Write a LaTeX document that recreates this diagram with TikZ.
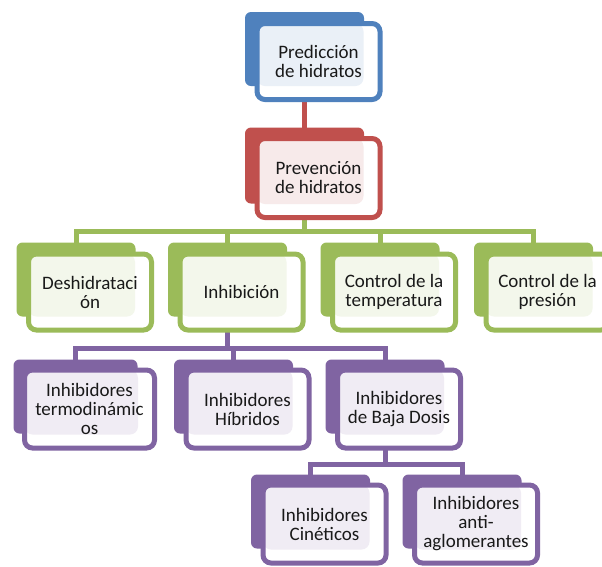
\documentclass[tikz,border=0pt]{standalone}
\usepackage{fontspec}
\setmainfont{Carlito}
\usetikzlibrary{calc}
\definecolor{azul}{HTML}{4F81BD}
\definecolor{rojo}{HTML}{C0504D}
\definecolor{verde}{HTML}{9BBB59}
\definecolor{morado}{HTML}{8064A2}
\tikzset{
  atras/.style={fill=#1, rounded corners=6pt, minimum width=119pt, minimum height=74pt, inner sep=0pt, outer sep=0pt},
  frente/.style={draw=#1, fill=white, line width=5pt, rounded corners=8pt, minimum width=123pt, minimum height=76pt,
    inner sep=0pt, outer sep=0pt, align=center, text=black!90, font={\fontsize{19pt}{19pt}\selectfont},
    path picture={\fill[#1!12] (path picture bounding box.north west) rectangle ([xshift=-16.5pt,yshift=13.5pt]path picture bounding box.south east);}},
  enlace/.style={draw=#1, line width=5pt}
}
\begin{document}
\begin{tikzpicture}[x=1pt,y=-1pt]
  \useasboundingbox (0,0) rectangle (602,566);
  \clip (0,0) rectangle (602,566);
  \fill[white] (0,0) rectangle (602,566);
  % cajas de fondo
  \node[atras=azul] (predB) at (304.5,49) {};
  \node[atras=rojo, minimum height=76pt] (prevB) at (304.5,165.5) {};
  \node[atras=verde] (deshidB) at (76,279.5) {};
  \node[atras=verde] (inhibB) at (227.5,279.5) {};
  \node[atras=verde] (ctempB) at (380,279.5) {};
  \node[atras=verde] (cpresB) at (533.5,279.5) {};
  \node[atras=morado, minimum width=124pt] (termoB) at (75.5,396.5) {};
  \node[atras=morado] (hibrB) at (233.5,396.5) {};
  \node[atras=morado] (bajaB) at (385,396.5) {};
  \node[atras=morado] (cinetB) at (310.5,511.5) {};
  \node[atras=morado] (antiB) at (462,511.5) {};
  % conectores
  \coordinate (busV) at ($(inhibB.north)+(0,-11)$);
  \coordinate (busM) at ($(hibrB.north)+(0,-11)$);
  \coordinate (busI) at ($(cinetB.north)+(0,-10)$);
  \draw[enlace=rojo] (predB.south) -- (prevB.north);
  \draw[enlace=verde] (prevB.south) -- (prevB |- busV);
  \draw[enlace=verde] (deshidB.north) |- (busV) -| (cpresB.north);
  \draw[enlace=verde] (inhibB.north) -- (inhibB |- busV);
  \draw[enlace=verde] (ctempB.north) -- (ctempB |- busV);
  \draw[enlace=morado] (inhibB.south) -- (inhibB |- busM);
  \draw[enlace=morado] (termoB.north) |- (busM) -| (bajaB.north);
  \draw[enlace=morado] (hibrB.north) -- (hibrB |- busM);
  \draw[enlace=morado] (bajaB.south) -- (bajaB |- busI);
  \draw[enlace=morado] (cinetB.north) |- (busI) -| (antiB.north);
  % cajas de frente
  \node[frente=azul] (pred) at ($(predB)+(14,12.5)$) {Predicción\\de hidratos};
  \node[frente=rojo, minimum height=79pt] (prev) at ($(prevB)+(14,12.5)$) {Prevención\\de hidratos};
  \node[frente=verde] (deshid) at ($(deshidB)+(14,12.5)$) {Deshidrataci\\ón};
  \node[frente=verde] (inhib) at ($(inhibB)+(14,12.5)$) {Inhibición};
  \node[frente=verde] (ctemp) at ($(ctempB)+(14,12.5)$) {Control de la\\temperatura};
  \node[frente=verde] (cpres) at ($(cpresB)+(14,12.5)$) {Control de la\\presión};
  \node[frente=morado, minimum width=130pt, minimum height=78pt] (termo) at ($(termoB)+(14,12.5)$) {Inhibidores\\termodinámic\\os};
  \node[frente=morado, minimum height=78pt] (hibr) at ($(hibrB)+(14,12.5)$) {Inhibidores\\Híbridos};
  \node[frente=morado, minimum height=78pt] (baja) at ($(bajaB)+(14,12.5)$) {Inhibidores\\de Baja Dosis};
  \node[frente=morado, minimum height=78pt] (cinet) at ($(cinetB)+(14,12.5)$) {Inhibidores\\Cinéticos};
  \node[frente=morado, minimum height=78pt] (anti) at ($(antiB)+(14,12.5)$) {Inhibidores\\anti-\\aglomerantes};
\end{tikzpicture}
\end{document}
